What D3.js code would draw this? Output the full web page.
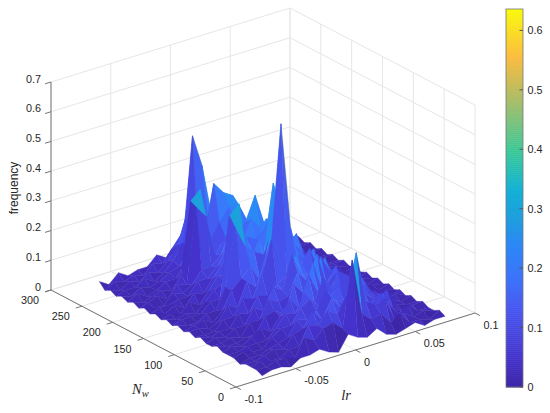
<!DOCTYPE html>
<html><head><meta charset="utf-8">
<script src="https://cdnjs.cloudflare.com/ajax/libs/d3/7.8.5/d3.min.js"></script>
<style>html,body{margin:0;padding:0;background:#fff}svg{display:block}text{font-family:"Liberation Sans",Arial,sans-serif;fill:#262626}</style>
</head><body><div id="c"></div>
<script>
const lrTicks=[-0.1,-0.05,0,0.05,0.1];
const lrTickLabels=["-0.1","-0.05","0","0.05","0.1"];
const nwTicks=[0,50,100,150,200,250,300];
const zTicks=[0,0.1,0.2,0.3,0.4,0.5,0.6,0.7];
const cbTicks=[0,0.1,0.2,0.3,0.4,0.5,0.6];
const zMax=0.636;
const lrValues=[-0.075,-0.067,-0.059,-0.051,-0.043,-0.035,-0.027,-0.019,-0.011,-0.003,0.005,0.013,0.021,0.029,0.037,0.045,0.053,0.061,0.069,0.078];
const nwValues=[6,15,24,33,42,52,61,70,79,88,97,106,115,124,133,143,152,161,170,179,188,197,206,215,224,234,243,252,261,270];
const frequency=[
[.00,.01,.01,.00,.02,.02,.03,.01,.00,.05,.03,.02,.04,.01,.00,.01,.02,.00,.01,.01],
[.01,.01,.02,.02,.01,.07,.05,.08,.09,.06,.28,.09,.06,.07,.03,.05,.01,.01,.00,.02],
[.01,.02,.01,.01,.03,.03,.09,.08,.12,.10,.15,.285,.11,.09,.10,.02,.03,.01,.02,.01],
[.01,.01,.02,.03,.02,.06,.07,.12,.08,.14,.10,.13,.12,.08,.11,.06,.02,.04,.01,.01],
[.00,.01,.01,.02,.03,.04,.09,.08,.10,.16,.12,.09,.14,.11,.08,.09,.03,.01,.02,.02],
[.01,.02,.01,.01,.04,.06,.06,.11,.13,.09,.11,.15,.12,.16,.09,.05,.08,.02,.01,.01],
[.01,.01,.02,.02,.02,.05,.09,.08,.14,.10,.17,.12,.09,.12,.13,.07,.03,.03,.01,.02],
[.01,.02,.01,.03,.05,.03,.07,.12,.08,.18,.11,.09,.16,.14,.08,.08,.04,.01,.03,.01],
[.02,.01,.01,.02,.02,.07,.08,.06,.15,.11,.20,.10,.13,.09,.11,.05,.05,.02,.01,.02],
[.01,.01,.02,.01,.05,.05,.11,.09,.10,.17,.13,.21,.10,.15,.08,.09,.03,.03,.02,.01],
[.01,.02,.01,.03,.03,.08,.06,.13,.11,.22,.15,.11,.18,.12,.11,.05,.05,.01,.01,.02],
[.02,.01,.02,.02,.06,.05,.10,.09,.12,.14,.20,.13,.10,.16,.07,.07,.03,.03,.02,.01],
[.01,.01,.01,.04,.04,.09,.08,.15,.26,.64,.28,.14,.19,.10,.11,.04,.04,.01,.01,.02],
[.02,.02,.01,.02,.07,.05,.13,.10,.20,.34,.30,.18,.14,.17,.07,.08,.03,.03,.02,.01],
[.01,.02,.03,.01,.04,.10,.13,.16,.10,.24,.33,.21,.15,.11,.13,.06,.04,.02,.01,.02],
[.02,.01,.01,.03,.03,.10,.29,.22,.19,.17,.40,.24,.18,.14,.09,.10,.03,.04,.02,.01],
[.01,.02,.02,.02,.05,.05,.32,.35,.12,.21,.26,.20,.16,.19,.09,.05,.04,.02,.01,.02],
[.02,.01,.02,.01,.04,.07,.09,.11,.18,.15,.22,.25,.17,.12,.13,.06,.03,.03,.02,.01],
[.01,.02,.01,.04,.02,.06,.10,.09,.13,.20,.18,.24,.20,.15,.09,.08,.03,.02,.02,.02],
[.02,.01,.03,.01,.05,.04,.08,.12,.10,.16,.24,.20,.13,.18,.10,.05,.04,.03,.01,.01],
[.01,.02,.02,.03,.03,.07,.07,.10,.15,.12,.22,.30,.19,.11,.14,.07,.03,.02,.02,.02],
[.02,.01,.01,.04,.03,.05,.09,.09,.12,.19,.17,.22,.15,.13,.08,.09,.03,.03,.01,.01],
[.01,.02,.03,.01,.05,.04,.29,.25,.11,.16,.22,.18,.20,.11,.10,.05,.04,.02,.02,.02],
[.02,.01,.02,.03,.02,.06,.30,.33,.14,.20,.24,.24,.17,.14,.07,.06,.03,.02,.01,.01],
[.01,.03,.01,.02,.04,.04,.08,.07,.12,.32,.28,.26,.14,.10,.08,.04,.04,.03,.02,.02],
[.02,.01,.03,.02,.03,.05,.06,.10,.15,.20,.25,.23,.20,.09,.06,.05,.03,.02,.01,.01],
[.01,.02,.02,.04,.02,.04,.07,.12,.47,.36,.18,.14,.11,.07,.05,.04,.02,.03,.02,.02],
[.02,.01,.03,.02,.04,.03,.06,.10,.20,.16,.12,.10,.08,.06,.04,.03,.03,.01,.01,.01],
[.01,.03,.02,.03,.02,.05,.04,.08,.12,.09,.08,.07,.05,.05,.03,.03,.02,.02,.02,.02],
[.03,.01,.04,.02,.03,.03,.06,.04,.05,.06,.04,.05,.03,.04,.02,.03,.02,.01,.02,.01]
];
const colorStops=[0,.08,.2,.27,.37,.45,.52,.62,.75,.87,1];
const colorRange=["#3e26a8","#4433cd","#4755f0","#3f6ffa","#2d87f7","#1ea0dd","#12b1d6","#37c897","#a5be6b","#fbbc41","#f9fb0e"];

const W=550,H=413;
const svg=d3.select("#c").append("svg").attr("width",W).attr("height",H);
const defs=svg.append("defs");
defs.append("filter").attr("id","soft").attr("x","-5%").attr("y","-5%").attr("width","110%").attr("height","110%")
  .append("feGaussianBlur").attr("stdDeviation",0.45);

// axonometric projection from three scales (screen offset along each data axis)
const lrX=d3.scaleLinear().domain([-0.1,0.1]).range([0,239]);
const lrY=d3.scaleLinear().domain([-0.1,0.1]).range([0,-74]);
const nwX=d3.scaleLinear().domain([0,300]).range([0,-185]);
const nwY=d3.scaleLinear().domain([0,300]).range([0,-97]);
const zY=d3.scaleLinear().domain([0,0.7]).range([0,-208]);
const ox=236,oy=387;
const P=(lr,nw,z)=>[ox+lrX(lr)+nwX(nw), oy+lrY(lr)+nwY(nw)+zY(z)];
const color=d3.scaleLinear().domain(colorStops.map(t=>t*zMax)).range(colorRange).clamp(true);
const line=d3.line();

// grid
const grid=svg.append("g").attr("fill","none").attr("stroke","#e6e6e6").attr("stroke-width",1);
const seg=(g,a,b)=>g.append("path").attr("d",line([a,b]));
lrTicks.forEach(l=>{seg(grid,P(l,0,0),P(l,300,0));seg(grid,P(l,300,0),P(l,300,0.7));});
nwTicks.forEach(n=>{seg(grid,P(-0.1,n,0),P(0.1,n,0));seg(grid,P(0.1,n,0),P(0.1,n,0.7));});
zTicks.forEach(z=>{seg(grid,P(-0.1,300,z),P(0.1,300,z));seg(grid,P(0.1,300,z),P(0.1,0,z));});

// axes
const axis=svg.append("g").attr("fill","none").attr("stroke","#757575").attr("stroke-width",1);
seg(axis,P(-0.1,300,0),P(-0.1,300,0.7));
seg(axis,P(-0.1,300,0),P(-0.1,0,0));
seg(axis,P(-0.1,0,0),P(0.1,0,0));
zTicks.forEach(z=>seg(axis,P(-0.1,300,z),P(-0.105,300,z)));
nwTicks.forEach(n=>seg(axis,P(-0.1,n,0),P(-0.105,n,0)));
lrTicks.forEach(l=>seg(axis,P(l,0,0),P(l,-8,0)));

// surface, back to front
const surf=svg.append("g").attr("filter","url(#soft)");
const faces=[];
for(let i=nwValues.length-2;i>=0;i--){
  for(let j=lrValues.length-2;j>=0;j--){
    faces.push({i,j});
  }
}
surf.selectAll("path").data(faces).join("path")
  .attr("d",d=>line([
    P(lrValues[d.j],nwValues[d.i],frequency[d.i][d.j]),
    P(lrValues[d.j+1],nwValues[d.i],frequency[d.i][d.j+1]),
    P(lrValues[d.j+1],nwValues[d.i+1],frequency[d.i+1][d.j+1]),
    P(lrValues[d.j],nwValues[d.i+1],frequency[d.i+1][d.j])
  ])+"Z")
  .attr("fill",d=>color(frequency[d.i][d.j]))
  .attr("stroke",d=>color(frequency[d.i][d.j]))
  .attr("stroke-width",0.4).attr("stroke-linejoin","round");

// tick labels
const fs=10.8;
const lab=svg.append("g").attr("font-size",fs);
zTicks.forEach(z=>{const p=P(-0.1,300,z);
  lab.append("text").attr("x",p[0]-10).attr("y",p[1]+0.5).attr("text-anchor","end").text(d3.format(".1~f")(z));});
nwTicks.forEach(n=>{const p=P(-0.1,n,0);
  lab.append("text").attr("x",p[0]-12).attr("y",p[1]+14).attr("text-anchor","end").text(n);});
lrTicks.forEach((l,k)=>{const p=P(l,0,0);
  lab.append("text").attr("x",p[0]+8.5).attr("y",p[1]+15.5).attr("text-anchor","start").text(lrTickLabels[k]);});

svg.append("text").attr("transform","translate(18,188) rotate(-90)").attr("text-anchor","middle").attr("font-size",12).text("frequency");
const nwLab=svg.append("text").attr("x",132).attr("y",394).attr("style","font-family:'Liberation Serif',serif;font-style:italic").attr("font-size",14.5);
nwLab.append("tspan").text("N");
nwLab.append("tspan").attr("dy",3).attr("font-size",10.5).text("w");
svg.append("text").attr("x",346).attr("y",400).attr("text-anchor","middle").attr("style","font-family:'Liberation Serif',serif;font-style:italic").attr("font-size",14.5).text("lr");

// colorbar
const cbY=d3.scaleLinear().domain([0,zMax]).range([387,9]);
const cbX0=506,cbX1=523;
const cb=svg.append("g");
const steps=d3.range(0,zMax,zMax/190);
cb.selectAll("rect").data(steps).join("rect")
  .attr("x",cbX0).attr("width",cbX1-cbX0)
  .attr("y",d=>cbY(d+zMax/190)).attr("height",d=>cbY(d)-cbY(d+zMax/190)+0.5)
  .attr("fill",d=>color(d));
cb.append("rect").attr("x",cbX0).attr("y",cbY(zMax)).attr("width",cbX1-cbX0).attr("height",cbY(0)-cbY(zMax))
  .attr("fill","none").attr("stroke","#757575").attr("stroke-width",0.8);
cbTicks.forEach(t=>{
  cb.append("path").attr("d",line([[cbX1-3.5,cbY(t)],[cbX1,cbY(t)]])).attr("stroke","#555").attr("fill","none");
  cb.append("text").attr("x",cbX1+4.5).attr("y",cbY(t)+4).attr("font-size",fs).text(d3.format(".1~f")(t));
});
</script></body></html>
